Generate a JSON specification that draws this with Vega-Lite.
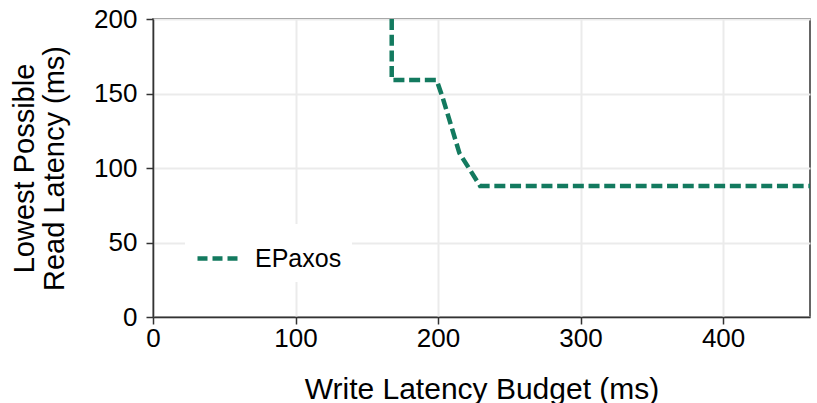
{
  "$schema": "https://vega.github.io/schema/vega-lite/v6.json",
  "autosize": {"type": "none"},
  "width": 657,
  "height": 298,
  "padding": {"left": 153, "top": 19, "right": 7, "bottom": 86},
  "background": "white",
  "config": {
    "font": "Liberation Sans",
    "view": {"stroke": "#333333", "strokeWidth": 1.5},
    "axis": {
      "domainColor": "#333333",
      "domainWidth": 1.5,
      "tickColor": "#333333",
      "tickWidth": 1.5,
      "tickSize": 7,
      "gridColor": "#ebebeb",
      "gridWidth": 2,
      "labelColor": "#000000",
      "labelFontSize": 26,
      "labelFlush": false,
      "titleColor": "#000000",
      "titleFontSize": 30,
      "titleFontWeight": "normal"
    }
  },
  "data": {
    "values": [
      {"budget": 167.5, "latency": 200, "series": "EPaxos"},
      {"budget": 167.5, "latency": 159, "series": "EPaxos"},
      {"budget": 199, "latency": 159, "series": "EPaxos"},
      {"budget": 203, "latency": 148, "series": "EPaxos"},
      {"budget": 215, "latency": 110, "series": "EPaxos"},
      {"budget": 229.5, "latency": 88, "series": "EPaxos"},
      {"budget": 461, "latency": 88, "series": "EPaxos"}
    ]
  },
  "mark": {"type": "line", "strokeWidth": 4.5, "strokeDash": [11, 4.7], "clip": true},
  "encoding": {
    "x": {
      "field": "budget",
      "type": "quantitative",
      "scale": {"domain": [0, 461], "nice": false, "zero": false},
      "axis": {
        "title": "Write Latency Budget (ms)",
        "values": [0, 100, 200, 300, 400],
        "labelPadding": 1,
        "titleBaseline": "alphabetic",
        "titleY": 81
      }
    },
    "y": {
      "field": "latency",
      "type": "quantitative",
      "scale": {"domain": [0, 200], "nice": false},
      "axis": {
        "title": ["Lowest Possible", "Read Latency (ms)"],
        "values": [0, 50, 100, 150, 200],
        "labelPadding": 9,
        "titleFontSize": 29,
        "titleAngle": -90,
        "titleAlign": "center",
        "titleBaseline": "alphabetic",
        "titleLineHeight": 30,
        "titleX": -120,
        "titleY": 149
      }
    },
    "color": {
      "field": "series",
      "type": "nominal",
      "scale": {"range": ["#137a5f"]},
      "legend": {
        "title": null,
        "orient": "none",
        "legendX": 32,
        "legendY": 205,
        "fillColor": "white",
        "padding": 10,
        "symbolType": "stroke",
        "symbolSize": 1936,
        "symbolStrokeWidth": 4.5,
        "symbolDash": [10, 5],
        "labelFontSize": 25,
        "labelColor": "#000000",
        "labelOffset": 11
      }
    }
  }
}
